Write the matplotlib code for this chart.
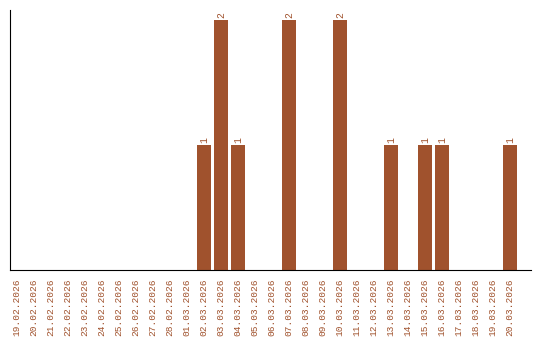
import matplotlib
matplotlib.use("Agg")
import matplotlib.pyplot as plt
import numpy as np

# Dates and counts per day
dates = ["19.02.2026", "20.02.2026", "21.02.2026", "22.02.2026", "23.02.2026",
         "24.02.2026", "25.02.2026", "26.02.2026", "27.02.2026", "28.02.2026",
         "01.03.2026", "02.03.2026", "03.03.2026", "04.03.2026", "05.03.2026",
         "06.03.2026", "07.03.2026", "08.03.2026", "09.03.2026", "10.03.2026",
         "11.03.2026", "12.03.2026", "13.03.2026", "14.03.2026", "15.03.2026",
         "16.03.2026", "17.03.2026", "18.03.2026", "19.03.2026", "20.03.2026"]
counts = [0, 0, 0, 0, 0, 0, 0, 0, 0, 0,
          0, 1, 2, 1, 0, 0, 2, 0, 0, 2,
          0, 0, 1, 0, 1, 1, 0, 0, 0, 1]

color = "#a0522d"

fig = plt.figure(figsize=(5.4, 3.4), dpi=100)
ax = fig.add_axes([10 / 540, 70 / 340, 521 / 540, 260 / 340])

x = np.arange(len(dates))
ax.bar(x, counts, width=0.82, color=color)

# value labels above non-empty bars
for xi, c in zip(x, counts):
    if c > 0:
        ax.text(xi, c + 0.02, str(c), rotation=90, ha="center", va="bottom",
                color=color, family="Liberation Mono", fontsize=7)

ax.set_xlim(-0.41, -0.41 + 521 / 17)
ax.set_ylim(0, 2.08)
ax.set_xticks(x)
ax.set_xticklabels(dates, rotation=90, family="Liberation Mono", fontsize=6.8, color=color)
ax.tick_params(axis="x", length=0, pad=6)
ax.set_yticks([])
ax.spines["top"].set_visible(False)
ax.spines["right"].set_visible(False)

fig.savefig("out.png", dpi=100)
